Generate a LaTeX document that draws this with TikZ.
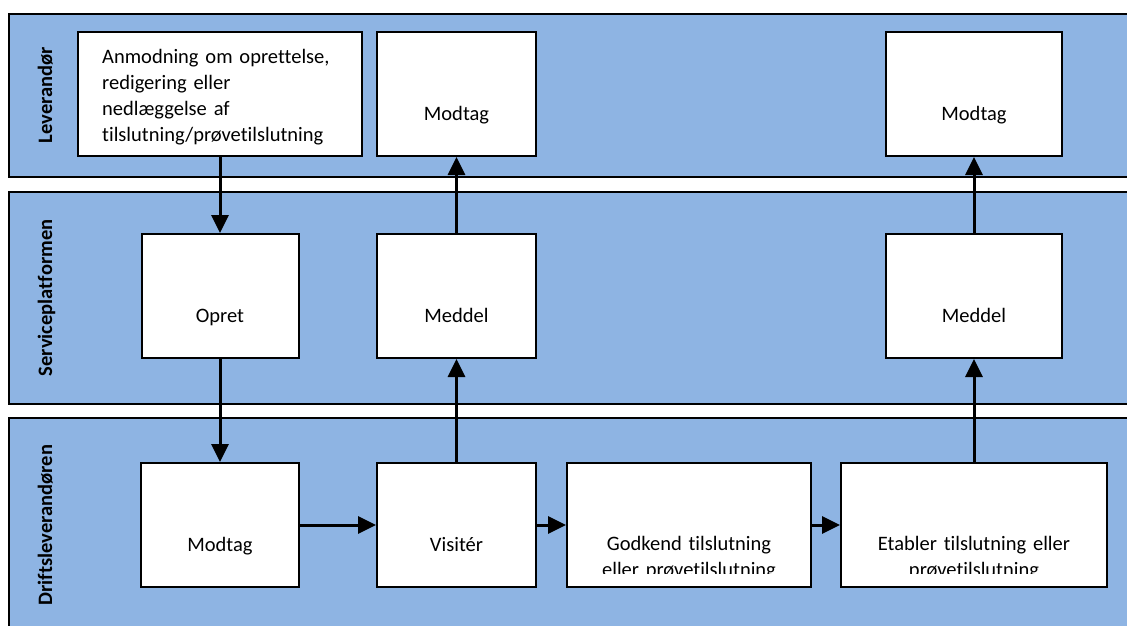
\documentclass[tikz,border=0pt]{standalone}
\usepackage{fontspec}
\setmainfont[Ligatures={NoCommon}]{Carlito}
\usetikzlibrary{arrows.meta}
\definecolor{lanefill}{HTML}{8EB4E3}
\begin{document}
\begin{tikzpicture}[x=1pt,y=-1pt,
  lane/.style={draw=black, line width=2pt, fill=lanefill},
  box/.style={draw=black, line width=2pt, fill=white, inner sep=0pt, minimum height=124pt},
  lbl/.style={font=\fontsize{20.5}{26}\selectfont, anchor=base, inner sep=0pt},
  lanelbl/.style={font=\fontsize{20.5}{26}\selectfont\bfseries, rotate=90, anchor=base, inner sep=0pt},
  flow/.style={line width=3pt, -{Triangle[length=18pt 0, width=17pt 0]}},
]
\clip (0,0) rectangle (1127,625);
\fill[white] (0,0) rectangle (1127,625);
% swimlanes
\path[lane] (8.5,14) rectangle (1145,177);
\path[lane] (8.5,192) rectangle (1145,404);
\path[lane] (8.5,418) rectangle (1145,640);
\node[lanelbl] (l1) at (52,95) {Leverandør};
\node[lanelbl] (l2) at (52,298) {Serviceplatformen};
\node[lanelbl] (l3) at (52,525) {Driftsleverandøren};
% boxes
\node[box, minimum width=284pt] (anm) at (220,94) {};
\node[box, minimum width=159pt] (mod1) at (456.5,94) {};
\node[box, minimum width=176pt] (mod2) at (974,94) {};
\node[box, minimum width=157pt] (opret) at (220,296) {};
\node[box, minimum width=159pt] (med1) at (456.5,296) {};
\node[box, minimum width=176pt] (med2) at (974,296) {};
\node[box, minimum width=158pt] (mod3) at (220,525) {};
\node[box, minimum width=159pt] (vis) at (456.5,525) {};
\node[box, minimum width=244pt] (god) at (689,525) {};
\node[box, minimum width=266pt] (eta) at (974,525) {};
% texts
\node[font=\fontsize{20.5}{26}\selectfont, anchor=base west, inner sep=0pt, text width=265pt, align=left] (tanm) at (102,63)
  {Anmodning om oprettelse,\\redigering eller\\nedlæggelse af\\tilslutning/prøvetilslutning};
\node[lbl] (tmod1) at (456.5,120) {Modtag};
\node[lbl] (tmod2) at (974,120) {Modtag};
\node[lbl] (topret) at (220,322) {Opret};
\node[lbl] (tmed1) at (456.5,322) {Meddel};
\node[lbl] (tmed2) at (974,322) {Meddel};
\node[lbl] (tmod3) at (220,551) {Modtag};
\node[lbl] (tvis) at (456.5,551) {Visitér};
\begin{scope}
  \clip (568,464) rectangle (810,573);
  \node[lbl, text width=240pt, align=center] (tgod) at (689,550) {Godkend tilslutning\\eller prøvetilslutning};
\end{scope}
\begin{scope}
  \clip (842,464) rectangle (1106,573);
  \node[lbl, text width=262pt, align=center] (teta) at (974,550) {Etabler tilslutning eller\\prøvetilslutning};
\end{scope}
% connectors
\draw[flow] (anm.south) -- (opret.north);
\draw[flow] (opret.south) -- (mod3.north);
\draw[flow] (mod3.east) -- (vis.west);
\draw[flow] (vis.east) -- (god.west);
\draw[flow] (god.east) -- (eta.west);
\draw[flow] (vis.north) -- (med1.south);
\draw[flow] (med1.north) -- (mod1.south);
\draw[flow] (eta.north) -- (med2.south);
\draw[flow] (med2.north) -- (mod2.south);
\end{tikzpicture}
\end{document}
